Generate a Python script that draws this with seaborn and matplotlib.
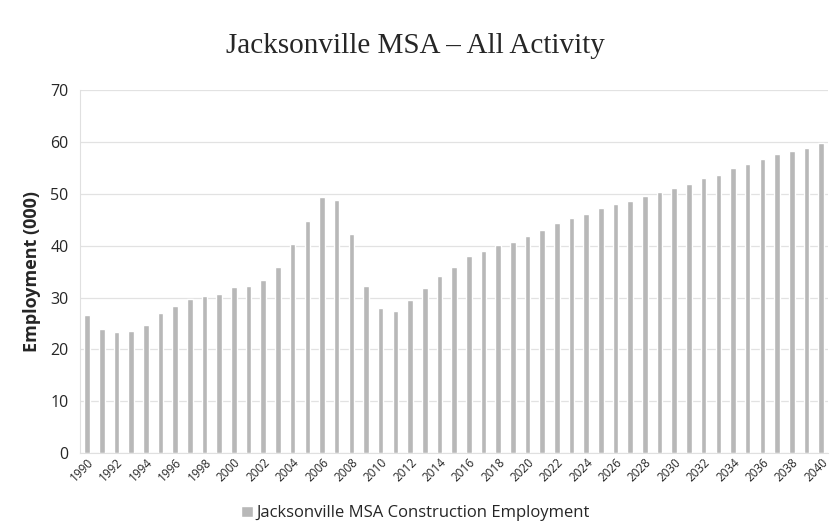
import pandas as pd
import matplotlib.pyplot as plt
import seaborn as sns

# Construction employment (thousands)
years = list(range(1990, 2041))
employment = [
    26.6, 23.9, 23.4, 23.5, 24.7, 27.0, 28.4, 29.8, 30.3, 30.7,
    32.0, 32.2, 33.3, 35.9, 40.4, 44.8, 49.4, 48.8, 42.3, 32.3,
    28.0, 27.4, 29.5, 31.9, 34.2, 35.9, 38.0, 39.0, 40.1, 40.8,
    41.9, 43.1, 44.3, 45.3, 46.2, 47.2, 48.0, 48.7, 49.5, 50.4,
    51.2, 51.9, 53.0, 53.6, 54.9, 55.7, 56.7, 57.6, 58.3, 58.9,
    59.9,
]
series_label = "Jacksonville MSA Construction Employment"
title = "Jacksonville MSA \u2013 All Activity"


def main():
    df = pd.DataFrame({"Year": [str(y) for y in years], "Employment": employment})

    sns.set_style("white")
    plt.rcParams["font.family"] = ["Open Sans", "DejaVu Sans"]

    fig = plt.figure(figsize=(8.31, 5.27), dpi=100)
    ax = fig.add_axes([0.096, 0.140, 0.900, 0.689])

    sns.barplot(data=df, x="Year", y="Employment", color="#b8b8b8",
                saturation=1, width=0.38, label=series_label, ax=ax)

    ax.set_ylim(0, 70)
    ax.set_yticks(range(0, 71, 10))
    ax.set_xlim(-0.5, 50.45)
    ax.yaxis.grid(True, color="#e2e2e2", linewidth=0.9)
    ax.set_axisbelow(True)
    sns.despine(ax=ax, top=True, right=True)
    ax.spines["left"].set_color("#e0e0e0")
    ax.spines["bottom"].set_color("#e0e0e0")

    ticks = list(range(0, len(years), 2))
    ax.set_xticks(ticks)
    ax.set_xticklabels([str(years[i]) for i in ticks], rotation=45,
                       ha="right", rotation_mode="anchor", fontsize=8.5)
    ax.tick_params(axis="y", labelsize=11.5, length=0, pad=8)
    ax.tick_params(axis="x", length=0, pad=2)

    ax.set_xlabel("")
    ax.set_ylabel("Employment (000)", fontsize=13, fontweight="bold", labelpad=7)

    fig.text(0.5, 0.912, title, ha="center", va="center", fontsize=21,
             family=["Liberation Serif", "DejaVu Serif"])

    ax.legend(loc="center", bbox_to_anchor=(0.5, 0.026), bbox_transform=fig.transFigure,
              frameon=False, fontsize=12, handlelength=0.7, handleheight=0.7,
              handletextpad=0.2)

    fig.savefig("out.png", dpi=100)
    plt.close(fig)


if __name__ == "__main__":
    main()
